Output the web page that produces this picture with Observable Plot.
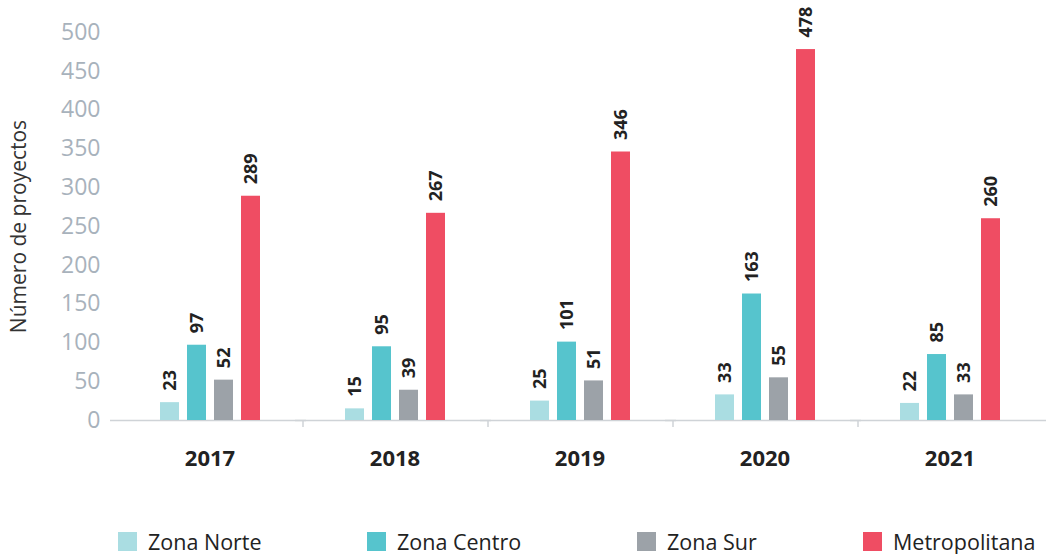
<!DOCTYPE html>
<html>
<head>
<meta charset="utf-8">
<script src="https://cdn.jsdelivr.net/npm/d3@7"></script>
<script src="https://cdn.jsdelivr.net/npm/@observablehq/plot@0.6"></script>
<style>
  html, body { margin: 0; padding: 0; background: #fff; }
  #wrap { position: relative; width: 1046px; height: 554px; font-family: "Open Sans", sans-serif; }
  #chart svg { display: block; }
  g[aria-label="y-axis tick label"] { fill: #a8b2bc; }
  g[aria-label="y-axis label"] { fill: #333; }
  g[aria-label="y-axis label"] text { font-size: 21px; }
  g[aria-label="fx-axis tick label"] { fill: #222; font-weight: bold; font-size: 22px; }
  #legend { position: absolute; left: 0; top: 500px; width: 1046px; height: 54px; }
  .item { position: absolute; top: 31px; height: 20px; display: flex; align-items: center; font-size: 21.5px; color: #222; white-space: nowrap; }
  .sw { width: 19px; height: 19px; margin-right: 11px; }
</style>
</head>
<body>
<div id="wrap">
  <div id="chart"></div>
  <div id="legend"></div>
</div>
<script>
const years = ["2017", "2018", "2019", "2020", "2021"];
const zones = ["Zona Norte", "Zona Centro", "Zona Sur", "Metropolitana"];
const zonaNorte = [23, 15, 25, 33, 22];
const zonaCentro = [97, 95, 101, 163, 85];
const zonaSur = [52, 39, 51, 55, 33];
const metropolitana = [289, 267, 346, 478, 260];
const yTicks = [0, 50, 100, 150, 200, 250, 300, 350, 400, 450, 500];
const colors = ["#aadde2", "#56c4cd", "#9ca2a8", "#ef4d63"];
const legendLeft = [118, 367, 637, 863];

const series = [zonaNorte, zonaCentro, zonaSur, metropolitana];
const data = [];
years.forEach((yr, i) => {
  zones.forEach((z, j) => data.push({year: yr, zona: z, value: series[j][i]}));
});

const chart = Plot.plot({
  width: 1046,
  height: 500,
  marginLeft: 117,
  marginRight: 4,
  marginTop: 32,
  marginBottom: 80,
  style: {fontFamily: "'Open Sans', sans-serif", fontSize: "21px", overflow: "visible"},
  fx: {domain: years, padding: 0, label: null, axis: "bottom", tickSize: 0, tickPadding: 30},
  x: {domain: zones, paddingInner: 0.3, paddingOuter: 1.575, axis: null},
  y: {domain: [0, 500]},
  color: {domain: zones, range: colors},
  marks: [
    Plot.axisY({ticks: yTicks, tickSize: 0, tickPadding: 17, fontSize: 23, label: "Número de proyectos", labelAnchor: "center", labelArrow: "none", labelOffset: 106, fill: "#a8b2bc"}),
    Plot.ruleY([0], {stroke: "#cfd3d7", strokeWidth: 1.5, insetLeft: -7, insetRight: -4}),
    Plot.ruleX(years.slice(0, -1), {fx: d => d, x: () => zones[3], y1: 0, y2: 0, insetBottom: -7, dx: 52, stroke: "#cfd3d7", strokeWidth: 1.5}),
    Plot.barY(data, {fx: "year", x: "zona", y: "value", fill: "zona"}),
    Plot.text(data, {fx: "year", x: "zona", y: "value", text: d => String(d.value), rotate: -90, textAnchor: "start", lineAnchor: "middle", dy: -12, fontSize: 18, fontWeight: "bold", fill: "#222"})
  ]
});
document.getElementById("chart").appendChild(chart);

const legend = document.getElementById("legend");
zones.forEach((z, j) => {
  const it = document.createElement("div");
  it.className = "item";
  it.style.left = legendLeft[j] + "px";
  const sw = document.createElement("span");
  sw.className = "sw";
  sw.style.background = colors[j];
  const tx = document.createElement("span");
  tx.textContent = z;
  it.appendChild(sw);
  it.appendChild(tx);
  legend.appendChild(it);
});
</script>
</body>
</html>
